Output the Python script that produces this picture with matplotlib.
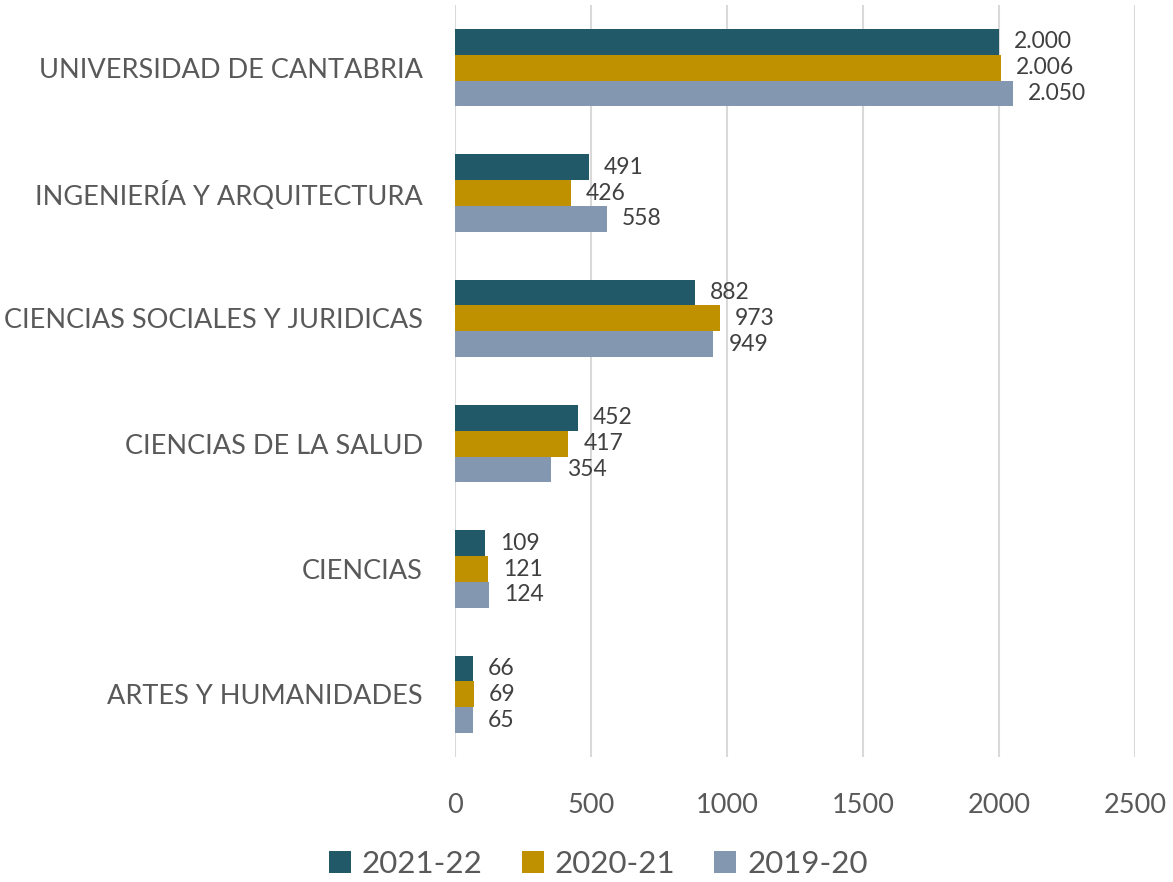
import matplotlib
matplotlib.use("Agg")
import matplotlib.pyplot as plt
import numpy as np

categories = ["UNIVERSIDAD DE CANTABRIA", "INGENIERÍA Y ARQUITECTURA",
              "CIENCIAS SOCIALES Y JURIDICAS", "CIENCIAS DE LA SALUD",
              "CIENCIAS", "ARTES Y HUMANIDADES"]
series_names = ["2021-22", "2020-21", "2019-20"]
v_2021_22 = [2000, 491, 882, 452, 109, 66]
v_2020_21 = [2006, 426, 973, 417, 121, 69]
v_2019_20 = [2050, 558, 949, 354, 124, 65]
series_values = [v_2021_22, v_2020_21, v_2019_20]
colors = ["#215968", "#BF9000", "#8497B0"]
x_ticks = [0, 500, 1000, 1500, 2000, 2500]

plt.rcParams['font.family'] = ['Lato', 'DejaVu Sans']

fig = plt.figure(figsize=(11.73, 8.82), dpi=100)
ax = fig.add_axes([455/1173, 1-757/882, 680/1173, 752/882])

y = np.arange(len(categories))
h = 0.205
for i, (name, vals, c) in enumerate(zip(series_names, series_values, colors)):
    pos = y + (i - 1) * h
    ax.barh(pos, vals, height=h, color=c, label=name, zorder=3)
    for p, v in zip(pos, vals):
        txt = f"{v:,}".replace(",", ".")
        ax.annotate(txt, (v, p), xytext=(11, 0), textcoords="offset points",
                    va="center", ha="left", fontsize=16.5, color="#404040")

ax.set_ylim(len(categories) - 0.5, -0.5)
ax.set_xlim(0, 2500)
ax.set_xticks(x_ticks)
ax.set_yticks(y)
ax.set_yticklabels(categories, fontsize=19.5, color="#595959")
ax.tick_params(axis='x', labelsize=19.5, labelcolor="#595959", length=0, pad=26)
ax.tick_params(axis='y', length=0, pad=23)
ax.grid(axis='x', color="#D9D9D9", linewidth=1.5, zorder=0)
for s in ax.spines.values():
    s.set_visible(False)

leg = fig.legend(loc="lower center", bbox_to_anchor=(0.5 + 0.01, -0.027), ncol=3,
                 frameon=False, fontsize=22.5, handlelength=0.7, handleheight=0.7,
                 handletextpad=0.35, columnspacing=1.25)
for t in leg.get_texts():
    t.set_color("#595959")

fig.savefig("out.png", dpi=100, facecolor="white")
